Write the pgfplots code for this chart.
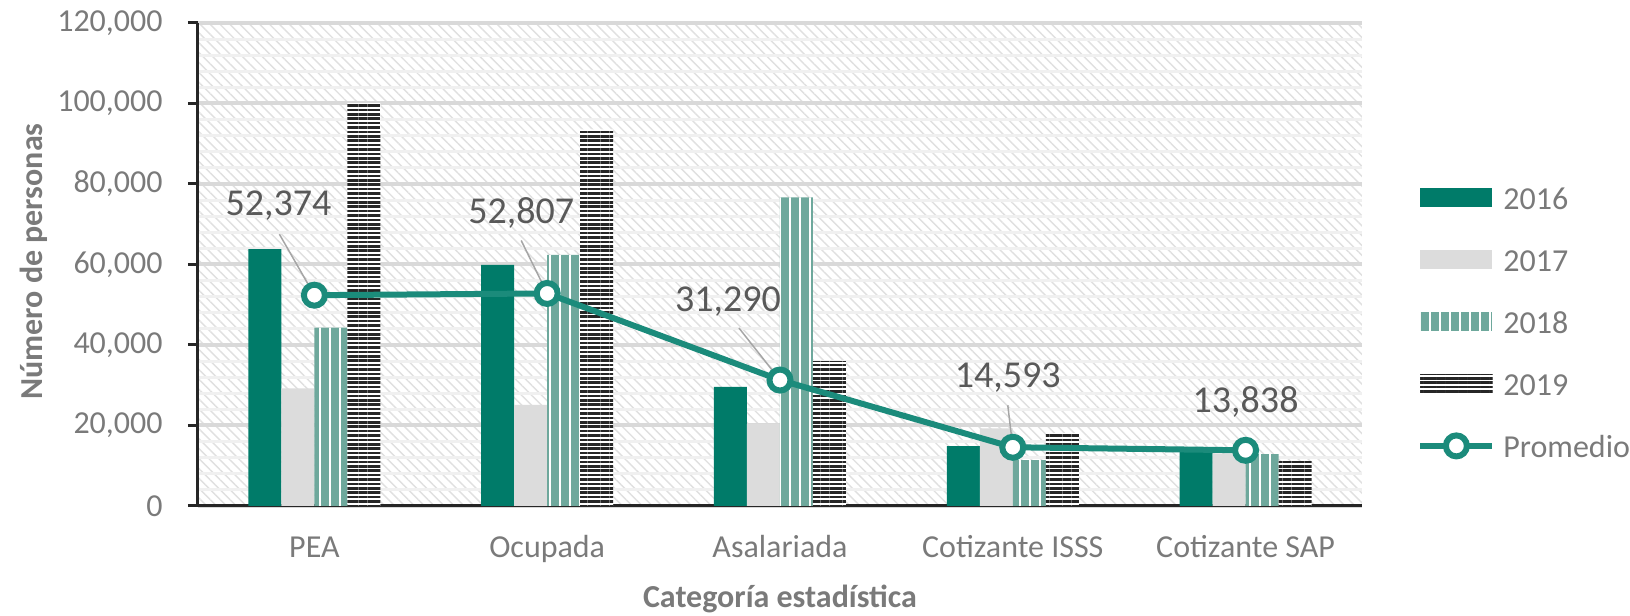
\documentclass[border=0pt]{standalone}
\usepackage{fontspec}
\setmainfont{Carlito}
\usepackage{pgfplots}
\pgfplotsset{compat=1.18}
\usetikzlibrary{patterns.meta}
\definecolor{c16}{HTML}{007B69}
\definecolor{c17}{HTML}{DCDCDC}
\definecolor{c18}{HTML}{6EA89C}
\definecolor{c19}{HTML}{262626}
\definecolor{cline}{HTML}{1B8B7B}
\definecolor{tickc}{HTML}{7A7A7A}
\definecolor{lblc}{HTML}{595959}
\definecolor{axisc}{HTML}{262626}
\definecolor{gridmaj}{HTML}{D9D9D9}
\definecolor{gridmin}{HTML}{F0F0F0}
\definecolor{bgpat}{HTML}{E0E0E0}
\definecolor{leadc}{HTML}{A6A6A6}
\pgfplotsset{
  promlegend/.style={legend image code/.code={\draw[##1,mark repeat=2,mark phase=2] plot coordinates {(0pt,0.2pt) (18pt,0.2pt) (36pt,0.2pt)};}},
}
\begin{document}
\begin{tikzpicture}[font=\fontsize{16pt}{19pt}\selectfont]
\path[use as bounding box] (-99pt,-55pt) rectangle (716pt,253pt);
\begin{axis}[
  at={(0,0)}, anchor=south west,
  scale only axis, width=582pt, height=241.5pt,
  xmin=-0.5, xmax=4.5, ymin=0, ymax=120000,
  xtick={0,1,2,3,4},
  xticklabels={PEA,Ocupada,Asalariada,Cotizante ISSS,Cotizante SAP},
  ytick={0,20000,40000,60000,80000,100000,120000},
  yticklabels={0,{20,000},{40,000},{60,000},{80,000},{100,000},{120,000}},
  scaled y ticks=false,
  minor y tick num=4,
  axis x line*=bottom, axis y line*=left,
  axis line style={draw=axisc, line width=1.5pt},
  tick align=outside, major tick length=5pt, minor tick length=0pt,
  xtick style={draw=none},
  ytick style={draw=axisc, line width=1.5pt},
  ymajorgrids, yminorgrids,
  major grid style={draw=gridmaj, line width=2pt},
  minor grid style={draw=gridmin, line width=1.5pt},
  axis background/.style={fill=white, postaction={pattern={Lines[angle=-45,distance=3.5pt,line width=0.7pt]}, pattern color=bgpat}},
  ticklabel style={font=\fontsize{16pt}{19pt}\selectfont, text=tickc},
  yticklabel style={inner sep=0pt, anchor=east, xshift=-12.5pt},
  xticklabel style={inner sep=0pt, anchor=base, yshift=-21pt},
  xlabel={Categoría estadística},
  ylabel={Número de personas},
  every axis x label/.style={at={(axis description cs:0.5,0)}, anchor=base, yshift=-50.5pt, font=\fontsize{16pt}{19pt}\selectfont\bfseries, text=tickc},
  every axis y label/.style={at={(axis description cs:0,0.5)}, xshift=-82pt, yshift=1.5pt, rotate=90, anchor=center, font=\fontsize{16pt}{19pt}\selectfont\bfseries, text=tickc},
  legend style={draw=none, fill=none, inner sep=0pt, at={(1,0)}, anchor=north west,
    xshift=27.5pt, yshift=159.8pt, row sep=19.5pt, column sep=4pt,
    nodes={inner sep=0pt, text height=11.5pt, text depth=0pt, text=tickc, font=\fontsize{16pt}{19pt}\selectfont}},
  legend cell align=left,
]
\addplot[ybar, bar width=16.5pt, bar shift=-24.75pt, fill=c16, draw=none,
  legend image code/.code={\fill[c16] (0pt,-4.5pt) rectangle (36pt,5pt);}]
  coordinates {(0,63800) (1,59900) (2,29600) (3,14900) (4,13500)};
\addlegendentry{2016}
\addplot[ybar, bar width=16.5pt, bar shift=-8.25pt, fill=c17, draw=none,
  legend image code/.code={\fill[c17] (0pt,-4.5pt) rectangle (36pt,5pt);}]
  coordinates {(0,29200) (1,25100) (2,20400) (3,19300) (4,13100)};
\addlegendentry{2017}
\addplot[ybar, bar width=16.5pt, bar shift=8.25pt, fill=c18, draw=none,
  postaction={pattern={Lines[angle=90,distance=5pt,line width=1.2pt]}, pattern color=white},
  legend image code/.code={\fill[c18] (0pt,-4.5pt) rectangle (36pt,5pt);
    \fill[pattern={Lines[angle=90,distance=5pt,line width=1.2pt]}, pattern color=white] (0pt,-4.5pt) rectangle (36pt,5pt);}]
  coordinates {(0,44300) (1,62400) (2,76700) (3,11400) (4,12900)};
\addlegendentry{2018}
\addplot[ybar, bar width=16.5pt, bar shift=24.75pt, fill=white, draw=none,
  postaction={pattern={Lines[angle=0,distance=2.2pt,line width=1.3pt]}, pattern color=c19},
  legend image code/.code={\fill[white] (0pt,-4.5pt) rectangle (36pt,5pt);
    \fill[pattern={Lines[angle=0,distance=2.2pt,line width=1.3pt]}, pattern color=c19] (0pt,-4.5pt) rectangle (36pt,5pt);}]
  coordinates {(0,100100) (1,93600) (2,36000) (3,18100) (4,11200)};
\addlegendentry{2019}
\addplot[color=cline, line width=3pt, mark=*, mark size=5.25pt,
  mark options={fill=white, draw=cline, line width=3pt}, promlegend]
  coordinates {(0,52374) (1,52807) (2,31290) (3,14593) (4,13838)};
\addlegendentry{Promedio}
% leader lines
\draw[leadc, line width=0.75pt] ([xshift=-17.5pt,yshift=30.5pt]axis cs:0,52374) -- (axis cs:0,52374);
\draw[leadc, line width=0.75pt] ([xshift=-13pt,yshift=26.5pt]axis cs:1,52807) -- (axis cs:1,52807);
\draw[leadc, line width=0.75pt] ([xshift=-20.5pt,yshift=26pt]axis cs:2,31290) -- (axis cs:2,31290);
\draw[leadc, line width=0.75pt] ([xshift=-2.5pt,yshift=21pt]axis cs:3,14593) -- (axis cs:3,14593);
% data labels
\begin{scope}[every node/.style={font=\fontsize{19pt}{22pt}\selectfont, text=lblc}]
\node[xshift=-18pt, yshift=45pt] at (axis cs:0,52374) {52,374};
\node[xshift=-13pt, yshift=40pt] at (axis cs:1,52807) {52,807};
\node[xshift=-26pt, yshift=39pt] at (axis cs:2,31290) {31,290};
\node[xshift=-2.5pt, yshift=35pt] at (axis cs:3,14593) {14,593};
\node[xshift=0pt, yshift=24pt] at (axis cs:4,13838) {13,838};
\end{scope}
\end{axis}
\end{tikzpicture}
\end{document}
